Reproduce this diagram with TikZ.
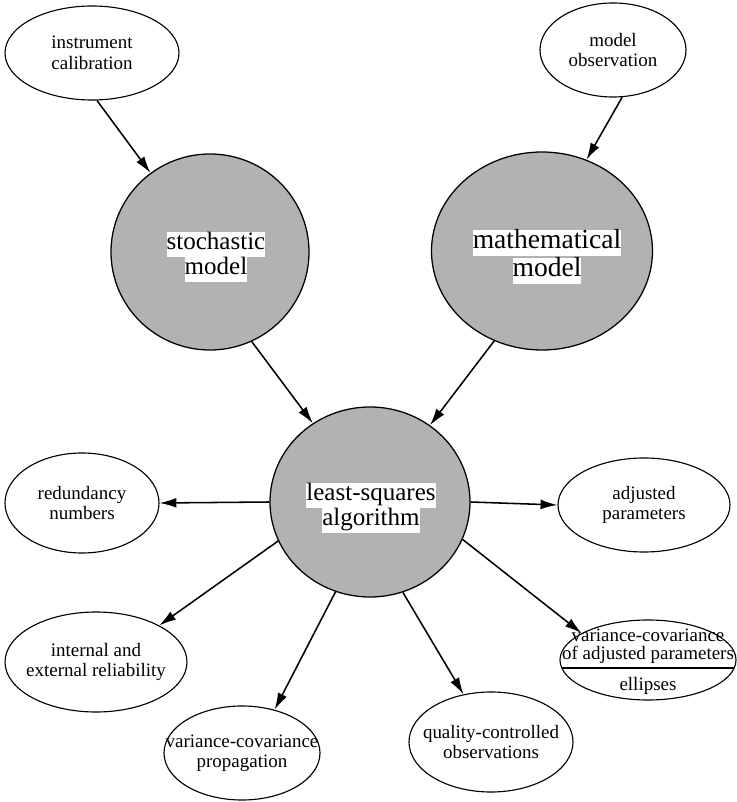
\documentclass[tikz,border=0pt]{standalone}
\usepackage{fontspec}
\setmainfont{Liberation Serif}
\usetikzlibrary{shapes.geometric,arrows.meta}

\newcommand{\wbox}[1]{{\setlength{\fboxsep}{0pt}\colorbox{white}{\strut #1}}}

\tikzset{
  oval/.style={draw, ellipse, line width=0.8pt, inner xsep=-1.2cm, inner ysep=-0.3cm,
    align=center, font=\fontsize{13.5}{14.5}\selectfont},
  ball/.style={draw, ellipse, line width=0.9pt, fill=black!30, inner sep=0pt},
  balltext/.style={align=center, inner sep=0pt, font=\fontsize{17.8}{18}\selectfont},
  arr/.style={-{Latex[length=12pt,width=7pt]}, line width=1.1pt}
}

\begin{document}
\begin{tikzpicture}

\useasboundingbox (0,0) rectangle (18.425,20.05);

% Modeles
\node[ball, minimum width=4.95cm, minimum height=4.9cm] (stoch) at (5.25,13.75) {};
\node[balltext] (stochtxt) at (5.40,13.625) {\wbox{stochastic}\\\wbox{model}};

\node[ball, minimum width=5.525cm, minimum height=4.95cm] (math) at (13.55,13.775) {};
\node[balltext, font=\fontsize{19.6}{18}\selectfont] (mathtxt) at (13.675,13.625)
{\wbox{mathematical}\\\wbox{model}};

\node[ball, minimum width=5cm, minimum height=4.75cm] (ls) at (9.25,7.5) {};
\node[balltext] (lstxt) at (9.275,7.35) {\wbox{least-squares}\\\wbox{algorithm}};

% Entrees
\node[oval, minimum width=4.35cm, minimum height=2.35cm] (instr) at (2.30,18.725)
{instrument\\calibration};

\node[oval, minimum width=3.65cm, minimum height=2.35cm] (modobs) at (15.325,18.80)
{model\\observation};

% Sorties
\node[oval, minimum width=3.85cm, minimum height=2.5cm] (redund) at (2.05,7.475)
{redundancy\\numbers};

\node[oval, minimum width=4.3cm, minimum height=2.35cm] (adj) at (16.10,7.425)
{adjusted\\parameters};

\node[oval, minimum width=4.55cm, minimum height=2.5cm] (intext) at (2.40,3.5)
{internal and\\external reliability};

\node[oval, minimum width=3.9cm, minimum height=2.35cm] (vcprop) at (6.05,1.225)
{variance-covariance\\propagation};

\node[oval, minimum width=4.1cm, minimum height=2.5cm] (qual) at (12.275,1.5)
{quality-controlled\\observations};

\node[oval, minimum width=4.4cm, minimum height=2.0cm] (vcadj) at (16.2,3.55) {};
\node[align=center, inner sep=0pt, font=\fontsize{13.5}{12.8}\selectfont] (vcadjtop)
at (16.2,3.9) {variance-covariance\\of adjusted parameters};
\node[inner sep=0pt, font=\fontsize{13.5}{14.5}\selectfont] (vcadjbot)
at (16.2,2.9) {ellipses};
\draw[line width=0.8pt]
([shift={(-2.156,-0.2)}]vcadj.center)
--
([shift={(2.156,-0.2)}]vcadj.center);

% Fleches
\draw[arr] (instr.276) -- (stoch.127);
\draw[arr] (modobs.281) -- (math.64);
\draw[arr] (stoch.295) -- (ls.126);
\draw[arr] (math.242) -- (ls.52);

\draw[arr] (ls.180) -- (redund.0);
\draw[arr] (ls.0) -- (adj.180);
\draw[arr] (ls.203) -- (intext.30);
\draw[arr] (ls.249) -- (vcprop.53);
\draw[arr] (ls.290) -- (qual.120);
\draw[arr] (ls.338) -- (vcadj.158);

\end{tikzpicture}
\end{document}
